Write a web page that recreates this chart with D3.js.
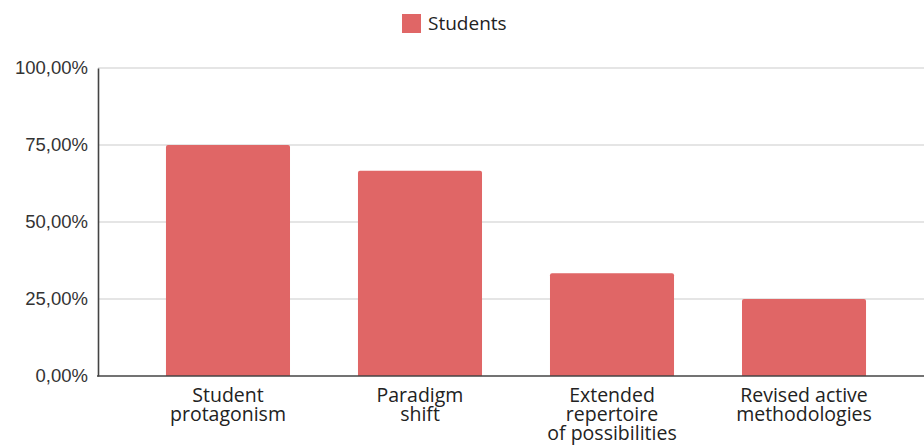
<!DOCTYPE html>
<html>
<head>
<meta charset="utf-8">
<script src="https://cdn.jsdelivr.net/npm/d3@7"></script>
<style>
  body { margin: 0; background: #fff; }
  svg { font-family: "Open Sans", "Noto Sans", sans-serif; }
</style>
</head>
<body>
<div id="chart"></div>
<script>
var width = 924;
var height = 446;

// data
var categories = [
  ['Student', 'protagonism'],
  ['Paradigm', 'shift'],
  ['Extended', 'repertoire', 'of possibilities'],
  ['Revised active', 'methodologies']
];
var values = [75, 66.67, 33.33, 25];
var yTicks = [0, 25, 50, 75, 100];
var seriesName = 'Students';
var barColor = '#e06666';

var svg = d3.select('#chart')
  .append('svg')
  .attr('width', width)
  .attr('height', height);

var x = d3.scaleBand()
  .domain(d3.range(categories.length))
  .range([98, 934])
  .padding(0.354);

var y = d3.scaleLinear()
  .domain([0, 100])
  .range([376, 68]);

// gridlines
svg.append('g')
  .selectAll('line')
  .data(yTicks.slice(1))
  .enter()
  .append('line')
  .attr('x1', 98)
  .attr('x2', width)
  .attr('y1', d => y(d))
  .attr('y2', d => y(d))
  .style('stroke', '#dcdcdc')
  .style('stroke-width', 1.6);

// bars, slightly rounded top corners
svg.append('g')
  .selectAll('path')
  .data(values)
  .enter()
  .append('path')
  .attr('d', (d, i) => {
    var x0 = x(i), w = x.bandwidth(), y0 = y(d), h = y(0) - y(d), r = 2;
    return 'M' + x0 + ',' + (y0 + h) +
      'V' + (y0 + r) + 'Q' + x0 + ',' + y0 + ' ' + (x0 + r) + ',' + y0 +
      'H' + (x0 + w - r) + 'Q' + (x0 + w) + ',' + y0 + ' ' + (x0 + w) + ',' + (y0 + r) +
      'V' + (y0 + h) + 'Z';
  })
  .style('fill', barColor);

// y axis
var yAxis = d3.axisLeft(y)
  .tickValues(yTicks)
  .tickSize(0)
  .tickPadding(10)
  .tickFormat(d => d3.format('.2f')(d).replace('.', ',') + '%');

var yg = svg.append('g')
  .attr('transform', 'translate(98,0)')
  .call(yAxis);
yg.select('.domain').style('stroke', '#444').style('stroke-width', 1.6);
yg.selectAll('text')
  .style('font-family', '"Liberation Sans", Arial, sans-serif')
  .style('font-size', '18.5px')
  .style('fill', '#333');

// x axis line
svg.append('line')
  .attr('x1', 97)
  .attr('x2', width)
  .attr('y1', y(0))
  .attr('y2', y(0))
  .style('stroke', '#444')
  .style('stroke-width', 1.6);

// category labels
var labels = svg.append('g')
  .selectAll('text')
  .data(categories)
  .enter()
  .append('text')
  .attr('text-anchor', 'middle')
  .attr('x', (d, i) => x(i) + x.bandwidth() / 2)
  .attr('y', 402)
  .style('font-size', '19.5px')
  .style('fill', '#222');

labels.selectAll('tspan')
  .data(d => d)
  .enter()
  .append('tspan')
  .attr('x', function () { return d3.select(this.parentNode).attr('x'); })
  .attr('dy', (d, i) => i === 0 ? 0 : 19)
  .text(d => d);

// legend
var legend = svg.append('g');
legend.append('rect')
  .attr('x', 402)
  .attr('y', 14)
  .attr('width', 19)
  .attr('height', 19)
  .style('fill', barColor);
legend.append('text')
  .attr('x', 428)
  .attr('y', 30)
  .style('font-size', '19px')
  .style('fill', '#222')
  .text(seriesName);
</script>
</body>
</html>
